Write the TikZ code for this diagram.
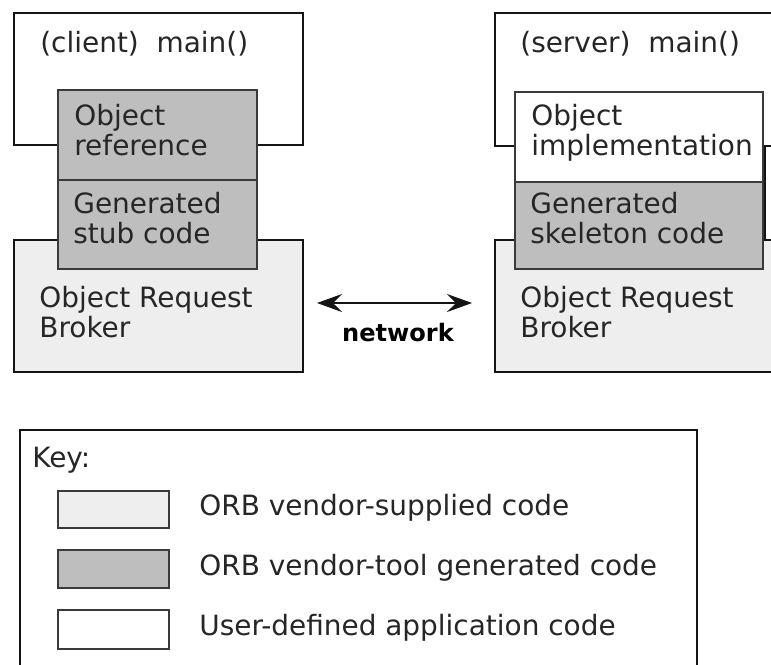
\documentclass[tikz,border=0pt]{standalone}
\usepackage{fontspec}
\setmainfont{DejaVu Sans}
\usetikzlibrary{arrows.meta}
\definecolor{stubgray}{HTML}{BEBEBE}
\definecolor{orbgray}{HTML}{EEEEEE}
\definecolor{inkline}{HTML}{141414}
\definecolor{boxline}{HTML}{3A3A3A}
\definecolor{txtgray}{HTML}{262626}

\newcommand{\boxfont}{\fontsize{15.9}{17.1}\selectfont}

\begin{document}
\begin{tikzpicture}[x=0.02cm, y=-0.02cm,
  >={Stealth[length=0.5cm, width=0.36cm, inset=0.18cm]},
  lbl/.style={anchor=north west, inner sep=0pt, align=left, font=\boxfont, text=txtgray},
  outerbox/.style={draw=inkline, line width=1.3pt},
  innerbox/.style={draw=boxline, line width=0.8pt}]

% Page
\useasboundingbox (0,0) rectangle (771,664);
\clip (0,0) rectangle (771,664);
\fill[white] (0,0) rectangle (771,664);

% === Client side ===
\filldraw[outerbox, fill=white] (14,13) rectangle (303,145);
\filldraw[outerbox, fill=orbgray] (14,240) rectangle (303,372);
\filldraw[innerbox, fill=stubgray] (58,90) rectangle (257,180);
\filldraw[innerbox, fill=stubgray] (58,180) rectangle (257,269);

\node[lbl] (climain) at (40,31) {(client)\ \ main()};
\node[lbl] (cliref) at (74,104) {Object\\reference};
\node[lbl] (clistub) at (73,192) {Generated\\stub code};
\node[lbl] (cliorb) at (39,286) {Object Request\\Broker};

% === Server side (runs off the right edge) ===
\filldraw[outerbox, fill=white] (495,13) rectangle (800,146);
\filldraw[outerbox, fill=orbgray] (495,240) rectangle (800,372);
\filldraw[innerbox, fill=white] (515,92) rectangle (763,182);
\filldraw[innerbox, fill=stubgray] (515,182) rectangle (763,269);
\draw[outerbox] (765,146) -- (765,240);

\node[lbl] (srvmain) at (520,31) {(server)\ \ main()};
\node[lbl] (srvimpl) at (531,104) {Object\\implementation};
\node[lbl] (srvskel) at (530,192) {Generated\\skeleton code};
\node[lbl] (srvorb) at (520,286) {Object Request\\Broker};

% === Network link ===
\coordinate (netL) at (317,303);
\coordinate (netR) at (472,303);
\draw[<->, inkline, line width=0.8pt] (netL) -- (netR);
\node[font=\fontsize{13.7}{15}\selectfont\bfseries, text=black] (netlbl) at (398,333) {network};

% === Key ===
\draw[outerbox] (20,430) rectangle (697,700);
\node[lbl] (keyttl) at (32,447) {Key:};

\filldraw[innerbox, fill=orbgray] (58,491) rectangle (169,528);
\filldraw[innerbox, fill=stubgray] (58,550) rectangle (169,588);
\filldraw[innerbox, fill=white] (58,610) rectangle (169,649);

\node[lbl] (keyorb) at (199,494) {ORB vendor-supplied code};
\node[lbl] (keygen) at (199,554) {ORB vendor-tool generated code};
\node[lbl] (keyusr) at (199,614) {User-defined application code};

\end{tikzpicture}
\end{document}
